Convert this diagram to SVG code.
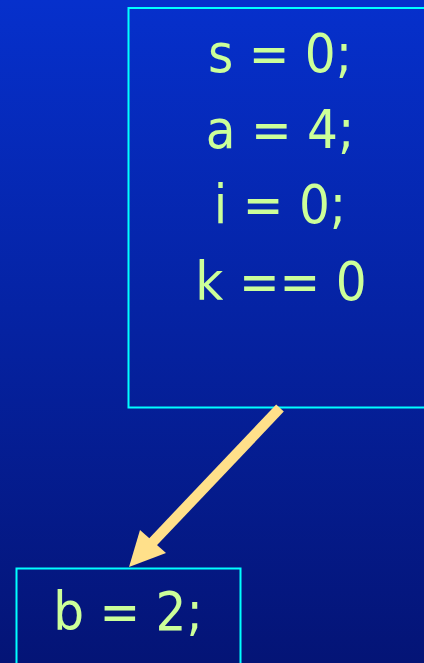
<svg xmlns="http://www.w3.org/2000/svg" width="424" height="663" viewBox="0 0 424 663">
<defs>
<linearGradient id="bg" x1="0" y1="0" x2="0" y2="1">
<stop offset="0" stop-color="#0630cc"/>
<stop offset="1" stop-color="#041476"/>
</linearGradient>
<style>
.box{fill:none;stroke:#00ffff;stroke-width:2}
.t{font-family:"DejaVu Sans Condensed","DejaVu Sans",sans-serif;font-stretch:condensed;font-size:54px;fill:#ccff99;text-anchor:middle}
.conn{stroke:#ffe08a;stroke-width:10.5;fill:none}
.head{fill:#ffe08a}
</style>
</defs>
<rect width="424" height="663" fill="url(#bg)"/>
<g id="node1">
<rect class="box" x="128.5" y="8" width="310" height="399.5"/>
<text class="t" x="280" y="72">s = 0;</text>
<text class="t" x="280" y="148">a = 4;</text>
<text class="t" x="280" y="223">i = 0;</text>
<text class="t" x="281" y="300">k == 0</text>
</g>
<g id="node2">
<rect class="box" x="16.5" y="568.5" width="224" height="110"/>
<text class="t" x="128" y="630">b = 2;</text>
</g>
<g id="connectors">
<line class="conn" x1="280" y1="408" x2="150" y2="545"/>
<polygon class="head" points="129,567 140,530 166,553"/>
</g>
</svg>
